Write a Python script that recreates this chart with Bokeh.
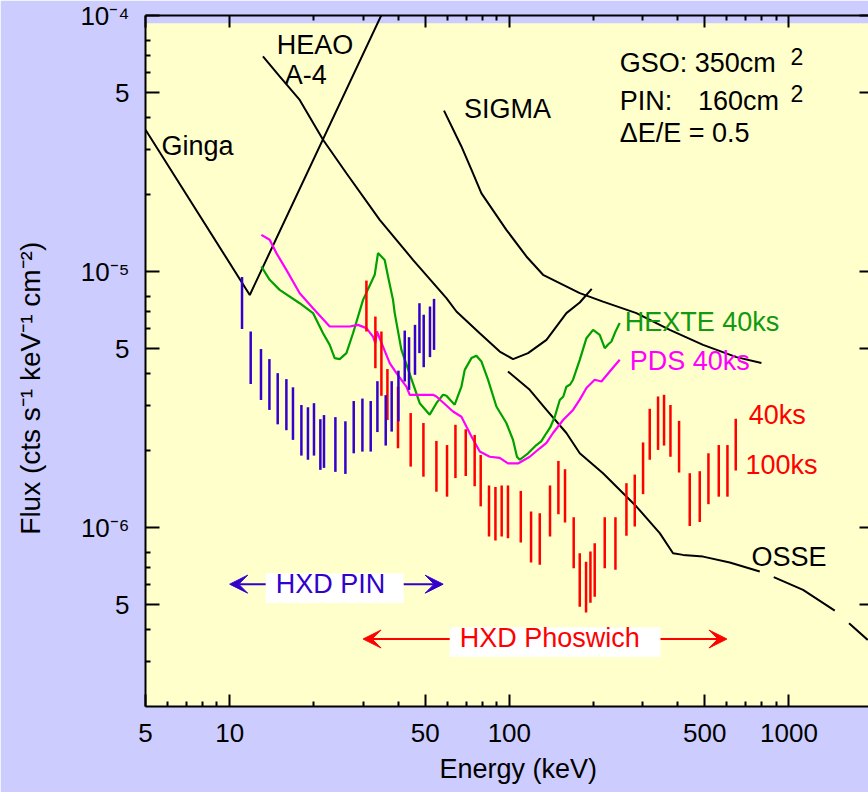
import math
from bokeh.plotting import figure
from bokeh.models import (Range1d, LogAxis, FixedTicker, Label, Arrow, VeeHead,
                          BoxAnnotation)
from bokeh.embed import file_html
from bokeh.resources import INLINE

NaN = float("nan")

# ---------------- data (energy keV, flux cts/s/keV/cm2) ----------------
ginga_e = [5.0, 11.8, 40.0]
ginga_f = [3.58e-5, 8.1e-6, 1.38e-4]

heao_e = [13.15, 15.09, 17.80, 21.57, 26.15, 34.40, 45.23, 59.57, 64.69, 78.39,
          92.4, 103.1, 116.7, 135.8, 160.0, 178.6, 197.1]
heao_f = [6.92e-5, 5.78e-5, 4.68e-5, 3.27e-5, 2.42e-5, 1.592e-5, 1.111e-5, 7.87e-6,
          6.98e-6, 5.74e-6, 4.87e-6, 4.55e-6, 4.80e-6, 5.41e-6, 6.88e-6, 7.57e-6, 8.56e-6]

sigma_e = [58.4, 67.4, 73.2, 79.5, 97.6, 115.1, 132.0, 178.6, 216.3, 284.8, 374.8,
           493.0, 648.9, 797.1]
sigma_f = [4.25e-5, 3.08e-5, 2.50e-5, 2.02e-5, 1.455e-5, 1.145e-5, 9.71e-6, 8.23e-6,
           7.63e-6, 6.88e-6, 5.92e-6, 5.17e-6, 4.63e-6, 4.39e-6]

osse_e = [98.9, 118.3, 135.8, 160.0, 178.6, 216.3, 284.8, 345.1, 385.0, 418.0, 493.0,
          614.3, 786.2, NaN, 882.3, 1123, 1458, NaN, 1640, 1913]
osse_f = [4.07e-6, 3.45e-6, 2.88e-6, 2.34e-6, 1.95e-6, 1.63e-6, 1.208e-6, 9.51e-7,
          7.94e-7, 7.82e-7, 7.70e-7, 7.30e-7, 6.73e-7, NaN, 6.40e-7, 5.71e-7, 4.74e-7,
          NaN, 4.23e-7, 3.64e-7]

hexte_e = [12.98, 13.90, 15.09, 17.80, 19.86, 21.57, 22.79, 23.74, 24.74, 26.15,
           27.61, 29.99, 33.01, 33.92, 35.84, 36.84, 38.38, 38.92, 41.13, 45.23,
           47.81, 51.91, 54.86, 57.94, 59.57, 63.78, 67.4, 69.27, 73.2, 76.25,
           79.5, 83.9, 89.9, 97.6, 103.1, 106.5, 108.9, 116.7, 125.0, 130.0, 135.8,
           140.0, 145.4, 151.5, 156.0, 160.0, 165.0, 169.0, 178.6, 188.7, 199.3, 210.5,
           219.4, 226.0, 231.8, 240.0, 248.2]
hexte_f = [1.046e-5, 9.28e-6, 8.48e-6, 7.52e-6, 6.88e-6, 5.74e-6, 5.17e-6, 4.59e-6, 4.55e-6, 4.80e-6,
           5.74e-6, 7.75e-6, 9.71e-6, 1.18e-5, 1.11e-5, 9.56e-6, 7.75e-6, 6.88e-6, 4.94e-6, 3.66e-6,
           3.06e-6, 2.76e-6, 3.06e-6, 3.30e-6, 3.27e-6, 3.02e-6, 3.55e-6, 4.13e-6, 4.59e-6, 4.69e-6,
           4.45e-6, 3.78e-6, 2.97e-6, 2.56e-6, 2.20e-6, 1.89e-6, 1.84e-6, 1.95e-6, 2.10e-6, 2.17e-6, 2.34e-6,
           2.46e-6, 2.71e-6, 3.15e-6, 3.25e-6, 3.55e-6, 3.62e-6, 3.78e-6, 4.52e-6, 5.49e-6, 5.92e-6, 5.66e-6,
           5.02e-6, 5.20e-6, 5.33e-6, 5.85e-6, 6.29e-6]

pds_e = [12.98, 13.90, 14.69, 15.95, 17.80, 19.86, 22.79, 26.87, 28.77, 30.83,
         32.54, 33.19, 33.63, 35.34, 37.35, 39.48, 42.85, 44.04, 53.35, 54.86,
         62.9, 67.4, 70.23, 73.2, 78.39, 85.1, 92.4, 98.9, 107.4, 118.3,
         128.5, 135.8, 143.3, 155.7, 169.0, 178.6, 188.7, 202.0, 213.5, 228.6, 248.2]
pds_f = [1.391e-5, 1.33e-5, 1.18e-5, 1.015e-5, 8.23e-6, 7.19e-6, 6.10e-6, 6.10e-6, 6.19e-6, 6.01e-6,
         5.57e-6, 5.25e-6, 5.83e-6, 5.09e-6, 4.39e-6, 4.01e-6, 3.55e-6, 3.30e-6, 3.30e-6, 3.25e-6,
         2.84e-6, 2.71e-6, 2.48e-6, 2.27e-6, 1.98e-6, 1.89e-6, 1.87e-6, 1.78e-6, 1.78e-6, 1.89e-6,
         2.04e-6, 2.14e-6, 2.34e-6, 2.63e-6, 2.88e-6, 3.16e-6, 3.51e-6, 3.78e-6, 3.72e-6, 4.07e-6, 4.52e-6]

pin_e = [11.07, 11.89, 12.94, 13.87, 14.85, 15.95, 16.84, 18.05, 19.05, 20.02,
         21.10, 21.74, 23.88, 25.93, 27.77, 29.83, 31.94, 33.75, 36.14, 37.96,
         40.13, 42.27, 43.79, 45.99, 47.71, 49.41, 52.03, 53.8]
pin_hi = [9.53e-6, 5.83e-6, 4.98e-6, 4.55e-6, 4.01e-6, 3.80e-6, 3.53e-6, 3.01e-6, 2.95e-6, 3.06e-6,
          2.65e-6, 2.75e-6, 2.70e-6, 2.60e-6, 3.12e-6, 3.19e-6, 3.12e-6, 3.73e-6, 3.29e-6, 3.73e-6,
          4.10e-6, 5.88e-6, 5.54e-6, 6.19e-6, 7.52e-6, 6.78e-6, 7.30e-6, 7.82e-6]
pin_lo = [5.96e-6, 3.64e-6, 3.15e-6, 2.88e-6, 2.53e-6, 2.40e-6, 2.20e-6, 1.91e-6, 1.84e-6, 1.91e-6,
          1.68e-6, 1.71e-6, 1.65e-6, 1.62e-6, 1.95e-6, 1.98e-6, 1.98e-6, 2.36e-6, 2.09e-6, 2.37e-6,
          2.60e-6, 3.72e-6, 3.45e-6, 3.95e-6, 4.80e-6, 4.23e-6, 4.63e-6, 4.94e-6]

gso_e = [30.83, 33.19, 34.88, 36.65, 39.99, 44.39, 49.30, 54.86, 59.88, 64.17,
         69.84, 75.18, 79.0, 84.6, 89.2, 93.9, 98.9, 109.9, 119.6, 128.5,
         139.8, 149.8, 158.2, 169.9, 178.6, 188.1, 195.0, 202.0, 219.4, 239.6,
         262.3, 280.9, 300.8, 317.8, 340.3, 357.5, 376.9, 404.6, 441.8, 479.7,
         515.3, 561.0, 602.6, 645.2]
gso_hi = [9.22e-6, 6.67e-6, 5.83e-6, 4.16e-6, 3.55e-6, 2.80e-6, 2.56e-6, 2.18e-6, 2.10e-6, 2.52e-6,
          2.42e-6, 2.30e-6, 1.92e-6, 1.46e-6, 1.44e-6, 1.46e-6, 1.46e-6, 1.39e-6, 1.155e-6, 1.138e-6,
          1.46e-6, 1.82e-6, 1.69e-6, 1.098e-6, 7.94e-7, 7.36e-7, 8.06e-7, 8.69e-7, 1.098e-6, 1.098e-6,
          1.49e-6, 1.61e-6, 2.15e-6, 2.91e-6, 3.25e-6, 3.30e-6, 3.01e-6, 2.61e-6, 1.63e-6, 1.66e-6,
          1.95e-6, 2.10e-6, 2.10e-6, 2.66e-6]
gso_lo = [5.83e-6, 4.19e-6, 3.27e-6, 2.63e-6, 2.04e-6, 1.73e-6, 1.58e-6, 1.38e-6, 1.32e-6, 1.56e-6,
          1.59e-6, 1.45e-6, 1.21e-6, 9.22e-7, 8.90e-7, 9.22e-7, 9.09e-7, 8.74e-7, 7.30e-7, 7.15e-7,
          9.22e-7, 1.128e-6, 1.046e-6, 6.94e-7, 4.91e-7, 4.66e-7, 5.09e-7, 5.37e-7, 6.94e-7, 6.84e-7,
          9.28e-7, 1.009e-6, 1.35e-6, 1.84e-6, 2.01e-6, 2.09e-6, 1.89e-6, 1.64e-6, 1.015e-6, 1.05e-6,
          1.234e-6, 1.32e-6, 1.32e-6, 1.67e-6]

# energy bands of the two HXD detectors
pin_band = [10.0, 58.0]
gso_band = [30.0, 600.0]

# ticks
x_major = [5, 10, 50, 100, 500, 1000]
x_labels = ["5", "10", "50", "100", "500", "1000"]
x_minor = [6, 7, 8, 9, 20, 30, 40, 60, 70, 80, 90, 200, 300, 400, 600, 700, 800, 900]
x_minor_top = [20, 30, 40, 60, 70, 80, 90, 200, 300, 400, 600, 700, 800, 900]
y_major = [5e-7, 1e-6, 5e-6, 1e-5, 5e-5, 1e-4]
y_labels = ["5", "10\u207b\u2076", "5", "10\u207b\u2075", "5", "10\u207b\u2074"]
y_minor = [3e-7, 4e-7, 6e-7, 7e-7, 8e-7, 2e-6, 3e-6, 4e-6, 6e-6, 7e-6, 8e-6,
           2e-5, 3e-5, 4e-5, 6e-5, 7e-5, 8e-5]

# ---------------- style ----------------
FONT = "Liberation Sans"
LAV = "#ccccff"
YEL = "#ffffcc"
BLUE = "#3300cc"
RED = "#ff0000"
GREEN = "#00a000"
GREEN_T = "#119911"
MAG = "#ff00ff"
NB = "\u00a0"

p = figure(width=868, height=792, x_axis_type="log", y_axis_type="log",
           x_range=Range1d(5, 1925), y_range=Range1d(2e-7, 1e-4),
           output_backend="svg", toolbar_location=None,
           min_border_left=145, min_border_right=0, min_border_top=15, min_border_bottom=86,
           background_fill_color=YEL, border_fill_color=LAV, outline_line_color=None)
p.grid.visible = False


def style_axis(ax, tick_in, minor_in, show_labels=True, line=True):
    ax.axis_line_width = 2
    ax.axis_line_color = "black" if line else None
    ax.major_tick_line_width = 2
    ax.minor_tick_line_width = 2
    ax.major_tick_in = tick_in
    ax.major_tick_out = 0
    ax.minor_tick_in = minor_in
    ax.minor_tick_out = 0
    ax.major_label_text_font = FONT
    ax.major_label_text_font_size = "26px"
    ax.axis_label_text_font = FONT
    ax.axis_label_text_font_style = "normal"
    ax.axis_label_text_color = "black"
    if show_labels:
        ax.major_label_text_color = "black"
    else:
        ax.major_label_text_color = None
        ax.major_label_standoff = 0


xb = p.xaxis[0]
xb.ticker = FixedTicker(ticks=x_major, minor_ticks=x_minor)
xb.major_label_overrides = dict(zip(x_major, x_labels))
style_axis(xb, 12, 5)
xb.major_label_standoff = 17
xb.axis_label = NB * 3 + "Energy (keV)"
xb.axis_label_text_font_size = "27px"
xb.axis_label_standoff = 9

yl = p.yaxis[0]
yl.ticker = FixedTicker(ticks=y_major, minor_ticks=y_minor)
yl.major_label_overrides = dict(zip(y_major, y_labels))
style_axis(yl, 14, 5)
yl.major_label_standoff = 16
yl.axis_label = "Flux (cts s\u207b\u00b9 keV\u207b\u00b9 cm\u207b\u00b2)" + NB * 7
yl.axis_label_text_font_size = "28px"
yl.axis_label_standoff = 31

xt = LogAxis(ticker=FixedTicker(ticks=x_major, minor_ticks=x_minor_top))
style_axis(xt, 12, 5, show_labels=False)
p.add_layout(xt, "above")

yr = LogAxis(ticker=FixedTicker(ticks=y_major, minor_ticks=[]))
style_axis(yr, 9, 0, show_labels=False, line=False)
p.add_layout(yr, "right")

# thin lavender strip at top of the frame (offset background of the original)
p.add_layout(BoxAnnotation(bottom=9.33e-5, fill_color=LAV, fill_alpha=1.0,
                           line_color=None, level="underlay"))

# ---------------- curves ----------------
for ex, fx in [(ginga_e, ginga_f), (heao_e, heao_f), (sigma_e, sigma_f), (osse_e, osse_f)]:
    p.line(ex, fx, line_color="black", line_width=2)

p.line(hexte_e, hexte_f, line_color=GREEN, line_width=2.2)
p.line(pds_e, pds_f, line_color=MAG, line_width=2.2)

p.segment(x0=gso_e, y0=gso_lo, x1=gso_e, y1=gso_hi, line_color=RED, line_width=2.5)
p.segment(x0=pin_e, y0=pin_lo, x1=pin_e, y1=pin_hi, line_color=BLUE, line_width=2.5)


# ---------------- texts ----------------
def txt(t, x, y, color="black", size="27px"):
    p.add_layout(Label(x=x, y=y, text=t, text_color=color, text_font=FONT,
                       text_font_size=size, text_align="left", text_baseline="alphabetic",
                       y_offset=10))


txt("Ginga", 5.70, 2.83e-5)
txt("HEAO", 14.73, 7.02e-5)
txt("A-4", 15.73, 5.36e-5)
txt("SIGMA", 68.87, 3.95e-5)
txt("GSO: 350cm", 248.2, 5.96e-5)
txt("2", 1012, 6.32e-5, size="23px")
txt("PIN:", 248.2, 4.22e-5)
txt("160cm", 473.0, 4.22e-5)
txt("2", 1012, 4.52e-5, size="23px")
txt("\u0394E/E = 0.5", 248.2, 3.17e-5)
txt("HEXTE 40ks", 258.6, 5.83e-6, color=GREEN_T)
txt("PDS 40ks", 269.5, 4.10e-6, color=MAG)
txt("40ks", 718.3, 2.52e-6, color=RED)
txt("100ks", 698.9, 1.61e-6, color=RED)
txt("OSSE", 734.5, 7.04e-7)

# HXD band markers
p.add_layout(BoxAnnotation(left=13.45, right=41.91, bottom=5.07e-7, top=6.63e-7,
                           fill_color="white", fill_alpha=1.0, line_color=None))
p.add_layout(BoxAnnotation(left=61.2, right=347.1, bottom=3.12e-7, top=4.08e-7,
                           fill_color="white", fill_alpha=1.0, line_color=None))
txt("HXD PIN", 14.6, 5.51e-7, color=BLUE)
txt("HXD Phoswich", 66.46, 3.38e-7, color=RED)

for xs, xe, yy, col in [(13.45, pin_band[0], 6.01e-7, BLUE), (41.91, pin_band[1], 6.01e-7, BLUE),
                        (61.2, gso_band[0], 3.67e-7, RED), (347.1, gso_band[1], 3.67e-7, RED)]:
    p.add_layout(Arrow(end=VeeHead(size=18, fill_color=col, line_color=col, line_width=1),
                       x_start=xs, y_start=yy, x_end=xe, y_end=yy,
                       line_color=col, line_width=2))

open("out.html", "w").write(file_html(p, INLINE))
